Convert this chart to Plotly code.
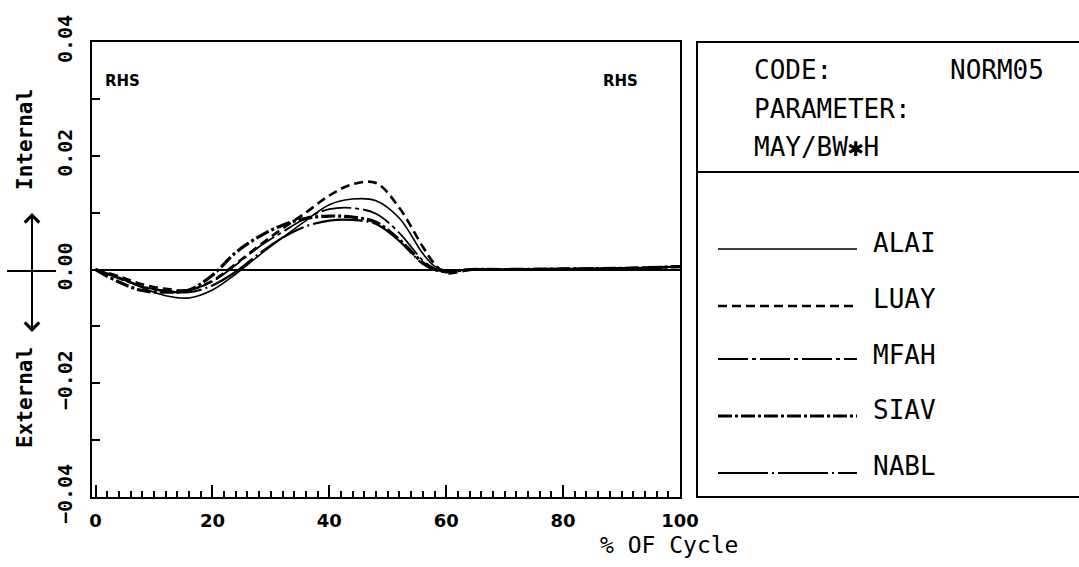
import plotly.graph_objects as go

# % of cycle
x_pct = [0, 4, 8, 12, 16, 20, 24, 28, 32, 36, 40, 44, 48, 52, 56, 58, 60, 64, 70, 80, 90, 100]

alai = [0, -0.0015, -0.0032, -0.0046, -0.0050, -0.0036, -0.0008, 0.0025, 0.0056, 0.0086, 0.0114,
        0.0124, 0.0121, 0.0090, 0.0028, 0.0006, -0.0002, 0.0, 0.0, 0.0001, 0.0002, 0.0005]
luay = [0, -0.0012, -0.0026, -0.0034, -0.0036, -0.0020, 0.0010, 0.0042, 0.0072, 0.0100, 0.0130,
        0.0150, 0.0152, 0.0108, 0.0040, 0.0010, -0.0006, -0.0001, 0.0, 0.0001, 0.0002, 0.0005]
mfah = [0, -0.0016, -0.0030, -0.0037, -0.0036, -0.0021, 0.0008, 0.0040, 0.0066, 0.0090, 0.0106,
        0.0108, 0.0098, 0.0064, 0.0016, 0.0002, -0.0003, 0.0, 0.0, 0.0001, 0.0002, 0.0005]
siav = [0, -0.0022, -0.0037, -0.0040, -0.0036, -0.0010, 0.0030, 0.0058, 0.0078, 0.0090, 0.0094,
        0.0092, 0.0083, 0.0052, 0.0012, 0.0, -0.0004, 0.0, 0.0, 0.0001, 0.0002, 0.0005]
nabl = [0, -0.0014, -0.0030, -0.0038, -0.0040, -0.0028, -0.0004, 0.0028, 0.0056, 0.0076, 0.0086,
        0.0087, 0.0080, 0.0050, 0.0010, 0.0, -0.0003, 0.0, 0.0, 0.0001, 0.0002, 0.0005]

series_names = ["ALAI", "LUAY", "MFAH", "SIAV", "NABL"]
series_values = [alai, luay, mfah, siav, nabl]
x_ticks = [0, 20, 40, 60, 80, 100]
y_ticks = [-0.04, -0.02, 0.0, 0.02, 0.04]
code_text = "NORM05"
parameter_text = "MAY/BW✱H"

styles = {
    "ALAI": dict(dash="solid", width=1.6),
    "LUAY": dict(dash="9px,5px", width=2.6),
    "MFAH": dict(dash="30px,4px,4px,4px", width=1.8),
    "SIAV": dict(dash="14px,3px,3px,3px", width=3.2),
    "NABL": dict(dash="50px,4px,2px,4px", width=2.2),
}

fig = go.Figure()
for name, vals in zip(series_names, series_values):
    st = styles[name]
    fig.add_trace(go.Scatter(
        x=x_pct, y=vals, mode="lines", name=name,
        line=dict(color="black", width=st["width"], dash=st["dash"], shape="spline", smoothing=1.0),
        showlegend=False,
    ))

W, H = 1079, 567
L, R, T, B = 92, 399, 42, 70
pw, ph = W - L - R, H - T - B

def px_x(px):
    return (px - L) / pw

def px_y(py):
    return (H - B - py) / ph

fig.update_layout(
    width=W, height=H,
    margin=dict(l=L, r=R, t=T, b=B, pad=0),
    paper_bgcolor="white", plot_bgcolor="white",
    font=dict(family="DejaVu Sans", color="black"),
)

mono = "DejaVu Sans Mono"

fig.update_xaxes(
    range=[-0.6, 100], tickvals=x_ticks, ticktext=[str(v) for v in x_ticks],
    showgrid=False, zeroline=False,
    showline=True, linecolor="black", linewidth=2, mirror=True,
    ticks="inside", ticklen=12, tickwidth=2, tickcolor="black",
    minor=dict(dtick=2, tick0=0, ticks="inside", ticklen=6, tickwidth=1.5, tickcolor="black", showgrid=False),
    tickfont=dict(family="DejaVu Sans", size=18, color="black", weight="bold"),
    ticklabelstandoff=6,
)
fig.update_yaxes(
    range=[-0.04, 0.04], tickvals=y_ticks, tickformat=".2f",
    showgrid=False, zeroline=True, zerolinecolor="black", zerolinewidth=1.5,
    showline=True, linecolor="black", linewidth=2, mirror=True,
    ticks="inside", ticklen=8, tickwidth=2, tickcolor="black",
    minor=dict(dtick=0.01, ticks="inside", ticklen=8, tickwidth=2, tickcolor="black", showgrid=False),
    tickangle=-90,
    tickfont=dict(family=mono, size=20, color="black", weight="bold"),
    ticklabelstandoff=10,
)

shapes = []
annotations = []

# Right-hand info / legend box
shapes.append(dict(type="rect", xref="paper", yref="paper",
                   x0=px_x(697), x1=px_x(1090), y0=0, y1=1,
                   line=dict(color="black", width=2), fillcolor="rgba(0,0,0,0)"))
shapes.append(dict(type="line", xref="paper", yref="paper",
                   x0=px_x(697), x1=px_x(1090), y0=px_y(172), y1=px_y(172),
                   line=dict(color="black", width=2)))

box_font = dict(family=mono, size=26, color="black")
annotations.append(dict(text="CODE:", xref="paper", yref="paper", x=px_x(752), y=px_y(70),
                        xanchor="left", yanchor="middle", showarrow=False, font=box_font))
annotations.append(dict(text=code_text, xref="paper", yref="paper", x=px_x(1046), y=px_y(70),
                        xanchor="right", yanchor="middle", showarrow=False, font=box_font))
annotations.append(dict(text="PARAMETER:", xref="paper", yref="paper", x=px_x(752), y=px_y(109),
                        xanchor="left", yanchor="middle", showarrow=False, font=box_font))
annotations.append(dict(text=parameter_text, xref="paper", yref="paper", x=px_x(752), y=px_y(147),
                        xanchor="left", yanchor="middle", showarrow=False, font=box_font))

legend_text_y = [243, 299, 355, 410, 466]
legend_line_y = [249, 306, 359, 416, 473]
for name, ty, ly in zip(series_names, legend_text_y, legend_line_y):
    st = styles[name]
    shapes.append(dict(type="line", xref="paper", yref="paper",
                       x0=px_x(718), x1=px_x(857), y0=px_y(ly), y1=px_y(ly),
                       line=dict(color="black", width=st["width"], dash=st["dash"])))
    annotations.append(dict(text=name, xref="paper", yref="paper", x=px_x(871), y=px_y(ty),
                            xanchor="left", yanchor="middle", showarrow=False, font=box_font))

# RHS labels
for xp in (122, 620):
    annotations.append(dict(text="RHS", xref="paper", yref="paper", x=px_x(xp), y=px_y(81),
                            xanchor="center", yanchor="middle", showarrow=False,
                            font=dict(family="DejaVu Sans", size=15, color="black", weight="bold")))

# x-axis title
annotations.append(dict(text="% OF Cycle", xref="paper", yref="paper", x=px_x(669), y=px_y(545),
                        xanchor="center", yanchor="middle", showarrow=False,
                        font=dict(family=mono, size=23, color="black")))

# y-axis directional labels
annotations.append(dict(text="Internal", xref="paper", yref="paper", x=px_x(25), y=px_y(140),
                        xanchor="center", yanchor="middle", showarrow=False, textangle=-90,
                        font=dict(family=mono, size=21, color="black", weight="bold")))
annotations.append(dict(text="External", xref="paper", yref="paper", x=px_x(25), y=px_y(398),
                        xanchor="center", yanchor="middle", showarrow=False, textangle=-90,
                        font=dict(family=mono, size=21, color="black", weight="bold")))
# arrows
annotations.append(dict(text="", xref="paper", yref="paper", x=px_x(32), y=px_y(213),
                        ax=0, ay=59, showarrow=True, arrowhead=4, arrowsize=1.4, arrowwidth=2,
                        arrowcolor="black"))
annotations.append(dict(text="", xref="paper", yref="paper", x=px_x(32), y=px_y(332),
                        ax=0, ay=-62, showarrow=True, arrowhead=4, arrowsize=1.4, arrowwidth=2,
                        arrowcolor="black"))
shapes.append(dict(type="line", xref="paper", yref="paper",
                   x0=px_x(7), x1=px_x(56), y0=px_y(271), y1=px_y(271),
                   line=dict(color="black", width=2)))

fig.update_layout(shapes=shapes, annotations=annotations)
fig.write_html("out.html")
